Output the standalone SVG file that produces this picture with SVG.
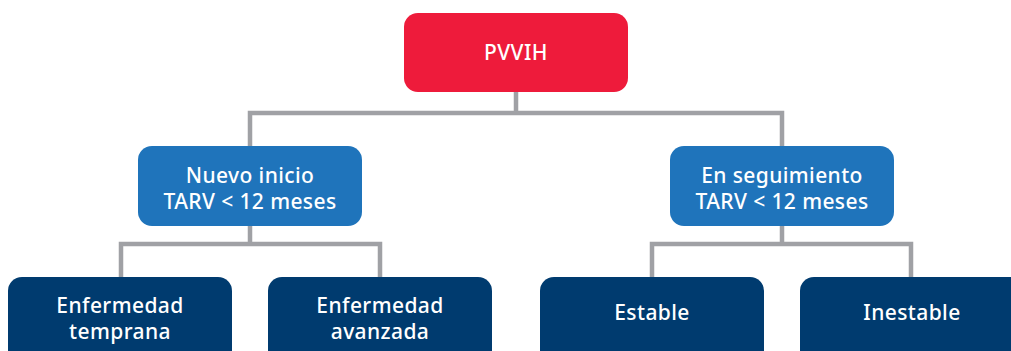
<svg xmlns="http://www.w3.org/2000/svg" width="1011" height="351" viewBox="0 0 1011 351">
<style>
.root{fill:#EE1B3B}
.mid{fill:#1F74BB}
.leaf{fill:#003B6F}
.t{fill:#FFFFFF;font-family:"Noto Sans","Liberation Sans",sans-serif;font-size:21px;font-weight:500;letter-spacing:0.4px;text-anchor:middle}
.c{fill:none;stroke:#A0A1A5;stroke-width:4.5;stroke-linejoin:miter}
</style>
<rect width="1011" height="351" fill="#FFFFFF"/>
<g id="connectors">
<path class="c" d="M516 92 V113 M250 146 V113 H782 V146"/>
<path class="c" d="M250 226 V244 M121 277 V244 H380 V277"/>
<path class="c" d="M782 226 V244 M652 277 V244 H911 V277"/>
</g>
<g id="pvvih">
<rect class="root" x="404" y="13" width="224" height="79" rx="14"/>
<text class="t" x="516" y="60">PVVIH</text>
</g>
<g id="nuevo-inicio">
<rect class="mid" x="138" y="146" width="224" height="80" rx="14"/>
<text class="t" x="250" y="183">Nuevo inicio</text>
<text class="t" x="250" y="209">TARV &lt; 12 meses</text>
</g>
<g id="en-seguimiento">
<rect class="mid" x="670" y="146" width="224" height="80" rx="14"/>
<text class="t" x="782" y="183">En seguimiento</text>
<text class="t" x="782" y="209">TARV &lt; 12 meses</text>
</g>
<g id="enfermedad-temprana">
<rect class="leaf" x="8" y="277" width="224" height="90" rx="14"/>
<text class="t" x="120" y="313">Enfermedad</text>
<text class="t" x="120" y="339">temprana</text>
</g>
<g id="enfermedad-avanzada">
<rect class="leaf" x="268" y="277" width="224" height="90" rx="14"/>
<text class="t" x="380" y="313">Enfermedad</text>
<text class="t" x="380" y="339">avanzada</text>
</g>
<g id="estable">
<rect class="leaf" x="540" y="277" width="224" height="90" rx="14"/>
<text class="t" x="652" y="320">Estable</text>
</g>
<g id="inestable">
<rect class="leaf" x="800" y="277" width="224" height="90" rx="14"/>
<text class="t" x="912" y="320">Inestable</text>
</g>
</svg>
